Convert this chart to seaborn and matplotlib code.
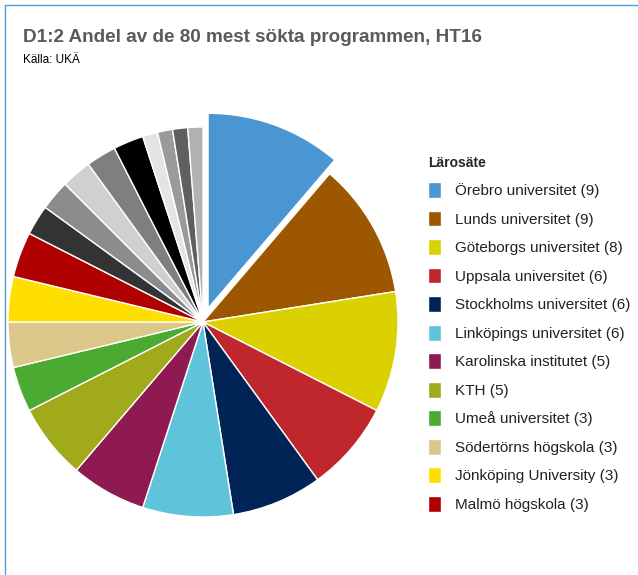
import matplotlib.pyplot as plt
import seaborn as sns
from matplotlib.lines import Line2D

# Programs among the 80 most applied-for, per university (HT16)
SCHOOLS = [
    "Örebro universitet", "Lunds universitet", "Göteborgs universitet",
    "Uppsala universitet", "Stockholms universitet", "Linköpings universitet",
    "Karolinska institutet", "KTH", "Umeå universitet", "Södertörns högskola",
    "Jönköping University", "Malmö högskola",
]
COUNTS = [9, 9, 8, 6, 6, 6, 5, 5, 3, 3, 3, 3]
OTHER_COUNTS = [2, 2, 2, 2, 2, 1, 1, 1, 1]

COLORS = [
    "#4a96d2", "#9c5700", "#dcd100", "#c0272d", "#002456", "#5fc3da",
    "#8f1a52", "#a0aa1a", "#4aaa32", "#dcc68a", "#ffdf00", "#b00000",
]
OTHER_COLORS = ["#333333", "#8c8c8c", "#d0d0d0", "#7f7f7f", "#000000",
                "#e4e4e4", "#9a9a9a", "#5f5f5f", "#b2b2b2"]

W, H = 638, 575

sns.set_theme(style="white")
plt.rcParams["font.family"] = ["Liberation Sans", "DejaVu Sans"]

fig = plt.figure(figsize=(W / 100, H / 100), dpi=100)

# pie centre (203, 322) px, radius 195 px
cx, cy, r = 203, 322, 195
half = r * 1.1
ax = fig.add_axes([(cx - half) / W, (H - cy - half) / H, 2 * half / W, 2 * half / H])
values = COUNTS + OTHER_COUNTS
explode = [0.075] + [0] * (len(values) - 1)
wedges, _ = ax.pie(
    values, colors=COLORS + OTHER_COLORS, startangle=90, counterclock=False,
    explode=explode, wedgeprops=dict(edgecolor="white", linewidth=1),
)
ax.set_xlim(-1.1, 1.1)
ax.set_ylim(-1.1, 1.1)
ax.set_aspect("equal")
ax.set_axis_off()

labels = [f"{s} ({c})" for s, c in zip(SCHOOLS, COUNTS)]
leg = fig.legend(
    wedges[:len(SCHOOLS)], labels, title="Lärosäte", loc="upper left",
    bbox_to_anchor=(414 / W, 1 - 142 / H), frameon=False, fontsize=11,
    handlelength=0.85, handleheight=1.2, handletextpad=0.95,
    labelspacing=0.82, alignment="left",
    title_fontproperties={"weight": "bold", "size": 10},
)
for t in leg.get_texts():
    t.set_color("#222222")

fig.text(23 / W, 1 - 38 / H, "D1:2 Andel av de 80 mest sökta programmen, HT16",
         fontsize=13.6, fontweight="bold", color="#5a5a5a", va="center")
fig.text(23 / W, 1 - 60 / H, "Källa: UKÄ", fontsize=8.5, color="black", va="center")

border = "#5b9bd5"
fig.add_artist(Line2D([5 / W, 1], [1 - 5 / H, 1 - 5 / H], color=border, lw=1))
fig.add_artist(Line2D([5 / W, 5 / W], [0, 1 - 5 / H], color=border, lw=1))

fig.savefig("out.png", dpi=100)
